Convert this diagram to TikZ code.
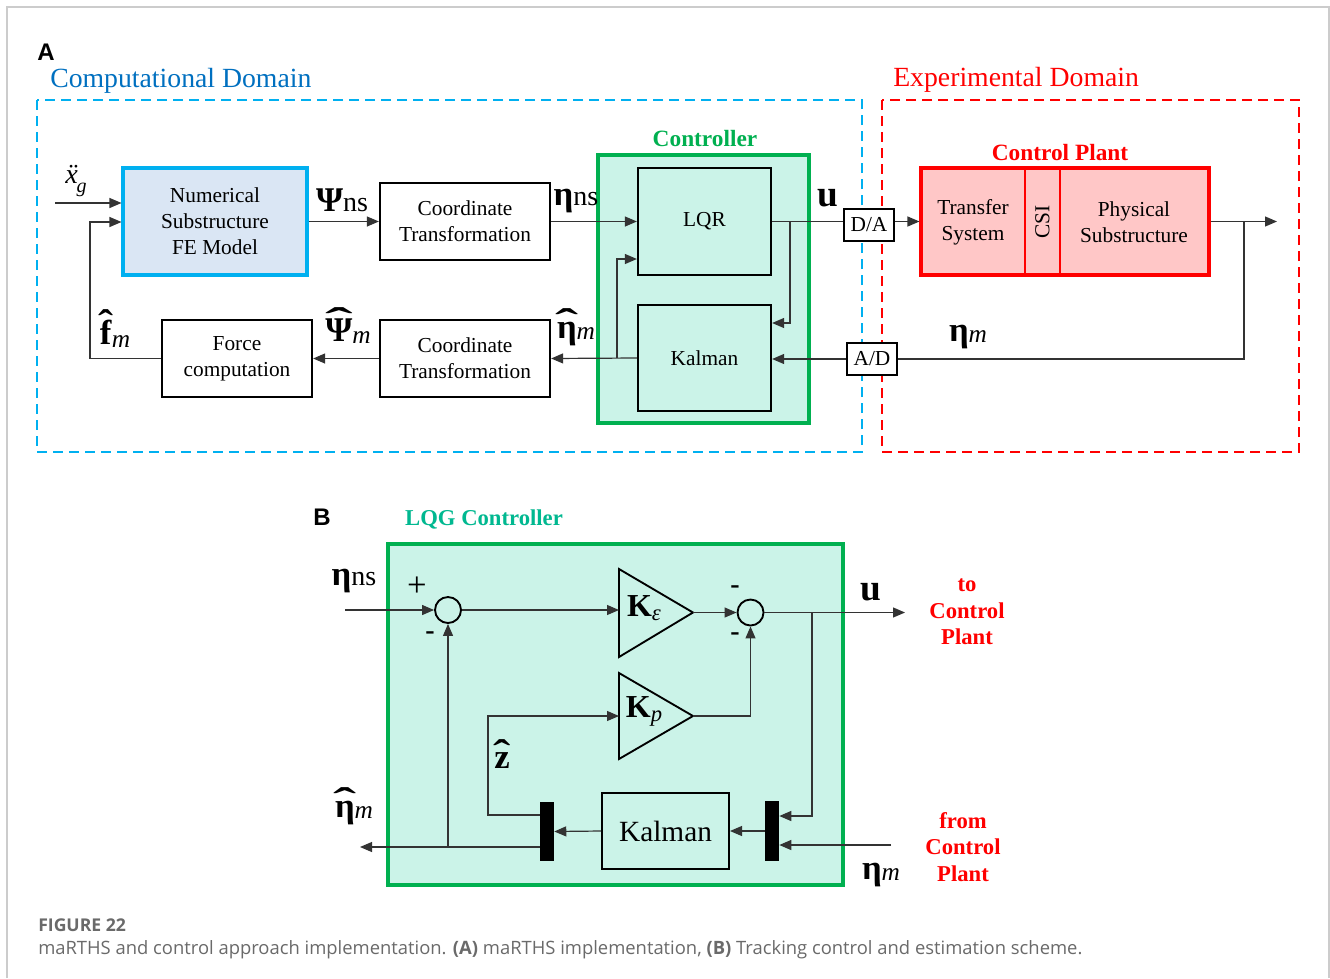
\documentclass[tikz,border=0pt]{standalone}
\usepackage{fontspec}
\setmainfont{Liberation Serif}
\newfontfamily\capfont{Open Sans}
\newfontfamily\lblfont{Liberation Sans}
\usetikzlibrary{arrows.meta,calc}

\definecolor{cblue}{HTML}{0070C0}
\definecolor{dblue}{HTML}{00B0F0}
\definecolor{nfill}{HTML}{DAE6F4}
\definecolor{mint}{HTML}{CBF3E8}
\definecolor{cgreen}{HTML}{00B050}
\definecolor{lqgteal}{HTML}{00B890}
\definecolor{pfill}{HTML}{FFC7C7}
\definecolor{framegray}{HTML}{CCCCCC}
\definecolor{capgray}{HTML}{6A6A6A}
\definecolor{wirec}{HTML}{333333}

\newcommand{\Lbig}{\fontsize{26}{26}\selectfont}
\newcommand{\Lsub}{\fontsize{19}{19}\selectfont}
\newcommand{\bEta}{{\Lbig\bfseries η}}
% glyph with a wide bold hat: #1 glyph, #2 raise, #3 horizontal scale
\newcommand{\hatted}[3]{{\Lbig\bfseries\ooalign{#1\cr\hidewidth\raisebox{#2}{\scalebox{#3}[1.1]{ˆ}}\hidewidth\cr}}}
\newcommand{\hatEta}{\hatted{η}{0.08em}{2.0}}

\begin{document}
\begin{tikzpicture}[x=0.75pt,y=-0.75pt,
  blk/.style={draw=black, line width=1.7pt, fill=white, align=center,
    font=\fontsize{16}{19.5}\selectfont, inner sep=0pt},
  wire/.style={line width=0.9pt, draw=wirec},
  arr/.style={wire, -{Triangle[length=9pt,width=7.5pt]}},
  domlbl/.style={font=\fontsize{20.8}{20.8}\selectfont, anchor=base west, inner sep=0pt},
  grplbl/.style={font=\fontsize{17.5}{17.5}\selectfont\bfseries, anchor=base, inner sep=0pt},
  lbl/.style={inner sep=0pt},
  sumc/.style={circle, draw=black, line width=1.4pt, minimum size=19.5pt, inner sep=0pt},
  tri/.style={draw=black, line width=1.4pt},
  bar/.style={fill=black, draw=none, inner sep=0pt, minimum width=10.5pt},
  redlbl/.style={text=red, font=\fontsize{17}{20}\selectfont\bfseries, align=center, inner sep=0pt}
]
\useasboundingbox (0,0) rectangle (1330,978);
\fill[white] (0,0) rectangle (1330,978);
\draw[framegray, line width=1pt] (7,978) -- (7,7) -- (1329,7) -- (1329,978);

% ---------------- Part A ----------------
\node[anchor=base west, inner sep=0pt, font=\lblfont\bfseries\fontsize{18}{18}\selectfont] (labA) at (37,60) {A};
\node[domlbl, text=cblue] (cdl) at (50,87) {Computational Domain};
\node[domlbl, text=red] (edl) at (893,86) {Experimental Domain};

\draw[dblue, line width=1.6pt, dash pattern=on 7.5pt off 4.5pt] (37,100) rectangle (862,452);
\draw[red, line width=1.6pt, dash pattern=on 7.5pt off 4.5pt] (882,100) rectangle (1299,452);

\node[grplbl, text=cgreen] (ctl) at (705,146) {Controller};
\node[draw=cgreen, line width=2.3pt, fill=mint, minimum width=158.25pt, minimum height=201pt, inner sep=0pt] (ctrl) at (703.5,289) {};

\node[blk, draw=dblue, line width=2.3pt, fill=nfill, minimum width=138pt, minimum height=80.25pt] (num) at (215,221.5) {Numerical\\Substructure\\FE Model};
\node[blk, minimum width=127.5pt, minimum height=57.75pt] (ct1) at (465,221.5) {Coordinate\\Transformation};
\node[blk, fill=mint, minimum width=99.75pt, minimum height=80.25pt] (lqr) at (704.5,221.5) {LQR};
\node[blk, fill=mint, minimum width=99.75pt, minimum height=79.5pt] (kal) at (704.5,358) {Kalman};
\node[blk, line width=1.5pt, minimum width=37.5pt, minimum height=24pt] (da) at (869,224.5) {D/A};
\node[blk, line width=1.5pt, minimum width=37.5pt, minimum height=24pt] (ad) at (872,359) {A/D};
\node[blk, minimum width=127.5pt, minimum height=57.75pt] (ct2) at (465,358.5) {Coordinate\\Transformation};
\node[blk, minimum width=112.5pt, minimum height=57.75pt] (force) at (237,358.5) {Force\\computation};

\node[grplbl, text=red] (cpl) at (1060,160) {Control Plant};
\node[draw=red, line width=2.3pt, fill=pfill, minimum width=216pt, minimum height=80.25pt, inner sep=0pt] (plant) at (1065,221.5) {};
\draw[red, line width=1.8pt] (1025,168) -- (1025,275);
\draw[red, line width=1.8pt] (1060,168) -- (1060,275);
\node[lbl, align=center, font=\fontsize{16}{19.5}\selectfont] (ts) at (973,222) {Transfer\\System};
\node[lbl, rotate=90, font=\fontsize{16}{16}\selectfont] (csi) at (1042.5,222) {CSI};
\node[lbl, align=center, font=\fontsize{16}{19.5}\selectfont] (ps) at (1134,222) {Physical\\Substructure};

% connectors A
\coordinate (xin) at (55,203);
\draw[arr] (xin) -- (xin -| num.west);
\coordinate (fbc) at (90,222);
\draw[arr] (force.west) -| (fbc) -- (fbc -| num.west);
\draw[arr] (num.east) -- (ct1.west);
\draw[arr] (ct1.east) -- (lqr.west);
\draw[wire] (lqr.east) -- (lqr.east -| da.west);
\draw[arr] (lqr.east -| da.east) -- (plant.west);
\coordinate (outend) at (1277,221.5);
\draw[arr] (plant.east) -- (outend);
\coordinate (ob) at (1244,221.5);
\draw[wire] (ob) |- (ad.east);
\draw[arr] (ad.west) -- (ad.west -| kal.east);
\coordinate (ub) at (790,221.5);
\coordinate (ky) at (790,323);
\draw[arr] (ub) -- (ky) -- (ky -| kal.east);
\draw[arr] (kal.west) -- (ct2.east);
\coordinate (kb) at (617,358);
\coordinate (kb2) at (617,259);
\draw[arr] (kb) -- (kb2) -- (kb2 -| lqr.west);
\draw[arr] (ct2.west) -- (force.east);

% labels A
\node[lbl] (xg) at (76,181) {\fontsize{21}{21}\selectfont\itshape \"x\kern-0.05em\raisebox{-0.35em}{\fontsize{15}{15}\selectfont g}};
\node[lbl] (fm) at (115,334) {\hatted{f}{0.22em}{1.3}\kern0.03em\raisebox{-0.25em}{\Lsub\itshape m}};
\node[lbl] (psins) at (342,200) {{\Lbig\bfseries Ψ}{\fontsize{21}{21}\selectfont ns}};
\node[lbl] (etans) at (576,201) {\bEta{\fontsize{21}{21}\selectfont ns}};
\node[lbl] (ulbl) at (828,198) {\fontsize{28}{28}\selectfont\bfseries u};
\node[lbl] (etahm) at (576,331) {\hatEta\raisebox{-0.1em}{\Lsub\itshape m}};
\node[lbl] (psihm) at (348,331) {\hatted{Ψ}{0.22em}{2.4}\raisebox{-0.1em}{\Lsub\itshape m}};
\node[lbl] (etam) at (968,337) {\bEta\raisebox{-0.1em}{\Lsub\itshape m}};

% ---------------- Part B ----------------
\node[anchor=base west, inner sep=0pt, font=\lblfont\bfseries\fontsize{18}{18}\selectfont] (labB) at (313,525) {B};
\node[grplbl, text=lqgteal, font=\fontsize{17}{17}\selectfont\bfseries] (lqgl) at (484,525) {LQG Controller};
\node[draw=cgreen, line width=2.3pt, fill=mint, minimum width=341.25pt, minimum height=255.75pt, inner sep=0pt] (lqg) at (615.5,714.5) {};

\node[sumc] (s1) at (448,610) {};
\node[sumc] (s2) at (750.5,612.5) {};
\draw[tri] (619,569) -- (693,612.5) -- (619,657) -- cycle;
\draw[tri] (619,673) -- (693,716) -- (619,759) -- cycle;
\coordinate (kei) at (619,610);
\coordinate (keo) at (693,612.5);
\coordinate (kpi) at (619,716);
\coordinate (kpo) at (693,716);
\node[lbl] (kel) at (644,608) {{\fontsize{24}{24}\selectfont\bfseries K}\raisebox{-0.3em}{\fontsize{17}{17}\selectfont\itshape ε}};
\node[lbl] (kpl) at (644,711) {{\fontsize{24}{24}\selectfont\bfseries K}\raisebox{-0.3em}{\fontsize{17}{17}\selectfont\itshape p}};

\node[blk, line width=1.5pt, fill=mint, minimum width=95.25pt, minimum height=57pt, font=\fontsize{22}{22}\selectfont] (kal2) at (665.5,831) {Kalman};
\node[bar, minimum height=44.25pt] (bL) at (547,831.5) {};
\node[bar, minimum height=45pt] (bR) at (772,831) {};

% connectors B
\coordinate (etnsin) at (345,610);
\draw[arr] (etnsin) -- (s1.west);
\draw[arr] (s1.east) -- (kei);
\draw[arr] (keo) -- (s2.west);
\draw[arr] (kpo) -| (s2.south);
\coordinate (uend) at (905,612.5);
\draw[arr] (s2.east) -- (uend);
\coordinate (ubr) at (812,612.5);
\coordinate (ubr2) at (812,816);
\draw[arr] (ubr) -- (ubr2) -- (ubr2 -| bR.east);
\coordinate (etin) at (891,845);
\draw[arr] (etin) -- (etin -| bR.east);
\draw[arr] (bR.west) -- (kal2.east);
\draw[arr] (kal2.west) -- (bL.east);
\coordinate (zc) at (488,815);
\draw[arr] (zc -| bL.west) -- (zc) |- (kpi);
\coordinate (eo) at (360,847);
\draw[arr] (eo -| bL.west) -- (eo);
\coordinate (eb) at (448,847);
\draw[arr] (eb) -- (s1.south);

% labels B
\node[lbl] (bEtans) at (354,581) {\bEta{\fontsize{21}{21}\selectfont ns}};
\node[lbl, font=\fontsize{26}{26}\selectfont] (plus) at (417,587) {+};
\node[lbl, font=\fontsize{21}{21}\selectfont\bfseries] (m1) at (430,636) {-};
\node[lbl, font=\fontsize{21}{21}\selectfont\bfseries] (m2) at (735,590) {-};
\node[lbl, font=\fontsize{21}{21}\selectfont\bfseries] (m3) at (735,637) {-};
\node[lbl] (bu) at (871,592) {\fontsize{28}{28}\selectfont\bfseries u};
\node[redlbl] (toCP) at (967,612) {to\\Control\\Plant};
\node[lbl] (zhat) at (502,761) {\hatted{z}{0.06em}{1.5}};
\node[lbl] (bEtahm) at (354,810) {\hatEta\raisebox{-0.1em}{\Lsub\itshape m}};
\node[lbl] (bEtam) at (881,875) {\bEta\raisebox{-0.1em}{\Lsub\itshape m}};
\node[redlbl] (fromCP) at (963,847) {from\\Control\\Plant};

% ---------------- Caption ----------------
\node[anchor=base west, inner sep=0pt, text=capgray, font=\capfont\bfseries\fontsize{13.2}{14}\selectfont] (figno) at (38,931) {FIGURE 22};
\node[anchor=base west, inner sep=0pt, text=capgray, font=\capfont\fontsize{13.8}{14}\selectfont] (cap) at (38,954) {maRTHS and control approach implementation. \textbf{(A)} maRTHS implementation, \textbf{(B)} Tracking control and estimation scheme.};
\end{tikzpicture}
\end{document}
